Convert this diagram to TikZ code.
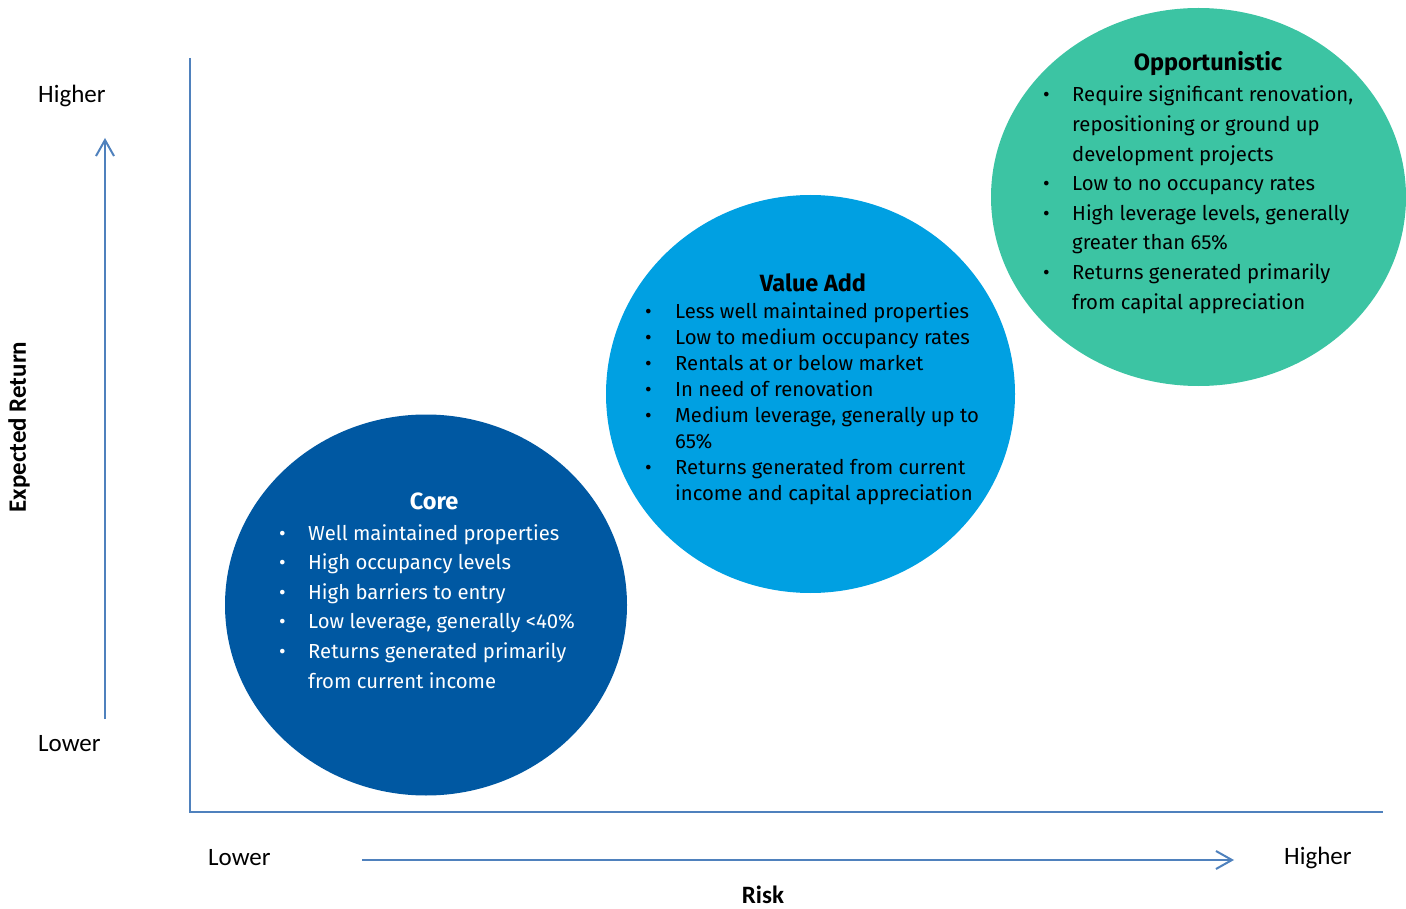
\documentclass[tikz,border=0pt]{standalone}
\usepackage{fontspec}
\setmainfont{Carlito}
\newfontfamily\bodyfont{Fira Sans}
\usetikzlibrary{shapes.geometric,arrows.meta}

\definecolor{axisblue}{HTML}{4F81BD}
\definecolor{coreblue}{HTML}{0058A2}
\definecolor{valueblue}{HTML}{00A0E2}
\definecolor{opgreen}{HTML}{3CC4A3}

\tikzset{
  blob/.style={ellipse, inner sep=0pt, draw=none},
  axisline/.style={draw=axisblue, line width=2pt},
  scalearrow/.style={draw=axisblue, line width=2pt,
    -{Straight Barb[length=16pt,width=18pt,line width=2pt]}},
  blobtitle/.style={font=\bodyfont\bfseries\fontsize{23.5}{27}\selectfont,
    inner sep=0pt, anchor=base},
  bodywide/.style={font=\bodyfont\fontsize{20.3}{29.6}\selectfont,
    inner sep=0pt, anchor=base west},
  bodytight/.style={font=\bodyfont\fontsize{20.3}{25.9}\selectfont,
    inner sep=0pt, anchor=base west},
  axislabel/.style={font=\fontsize{25}{30}\selectfont, inner sep=0pt,
    anchor=base west},
  axistitle/.style={font=\bfseries\fontsize{25}{30}\selectfont, inner sep=0pt},
}

\begin{document}
\begin{tikzpicture}[x=1pt, y=-1pt]
\useasboundingbox (0,0) rectangle (1406,909);

% strategy bubbles
\node[blob, fill=coreblue, minimum width=402pt, minimum height=381pt]
  (core) at (426,605) {};
\node[blob, fill=valueblue, minimum width=409pt, minimum height=398pt]
  (value) at (810.5,394) {};
\node[blob, fill=opgreen, minimum width=415pt, minimum height=378pt]
  (opp) at (1198.5,197) {};

% axes
\coordinate (ytop) at (190,58);
\coordinate (origin) at (190,812);
\coordinate (xend) at (1383,812);
\draw[axisline] (ytop) -- (origin) -- (xend);

% direction arrows
\coordinate (ylow) at (105,719);
\coordinate (yhigh) at (105,138);
\draw[scalearrow] (ylow) -- (yhigh);
\coordinate (xlow) at (362,860);
\coordinate (xhigh) at (1234,860);
\draw[scalearrow] (xlow) -- (xhigh);

% axis labels
\node[axislabel] (yhi) at (38,103) {Higher};
\node[axislabel] (ylo) at (38,751) {Lower};
\node[axislabel] (xlo) at (208,865) {Lower};
\node[axislabel] (xhi) at (1284,864) {Higher};
\node[axistitle, anchor=base] (risk) at (763,903) {Risk};
\node[axistitle, rotate=90] (ret) at (19,427) {Expected Return};

% Core
\node[blobtitle, text=white] (coret) at (434,509) {Core};
\node[bodywide, text=white] (coreb) at (279,540) {%
\begin{tabular}[t]{@{}p{29pt}@{}l@{}}
• & Well maintained properties\\
• & High occupancy levels\\
• & High barriers to entry\\
• & Low leverage, generally <40\%\\
• & Returns generated primarily\\
  & from current income
\end{tabular}};

% Value Add
\node[blobtitle] (valuet) at (813,292) {Value Add};
\node[bodytight] (valueb) at (645,319) {%
\begin{tabular}[t]{@{}p{30pt}@{}l@{}}
• & Less well maintained properties\\
• & Low to medium occupancy rates\\
• & Rentals at or below market\\
• & In need of renovation\\
• & Medium leverage, generally up to\\
  & 65\%\\
• & Returns generated from current\\
  & income and capital appreciation
\end{tabular}};

% Opportunistic
\node[blobtitle] (oppt) at (1208,71) {Opportunistic};
\node[bodywide] (oppb) at (1043,102) {%
\begin{tabular}[t]{@{}p{29pt}@{}l@{}}
• & Require significant renovation,\\
  & repositioning or ground up\\
  & development projects\\
• & Low to no occupancy rates\\
• & High leverage levels, generally\\
  & greater than 65\%\\
• & Returns generated primarily\\
  & from capital appreciation
\end{tabular}};
\end{tikzpicture}
\end{document}
